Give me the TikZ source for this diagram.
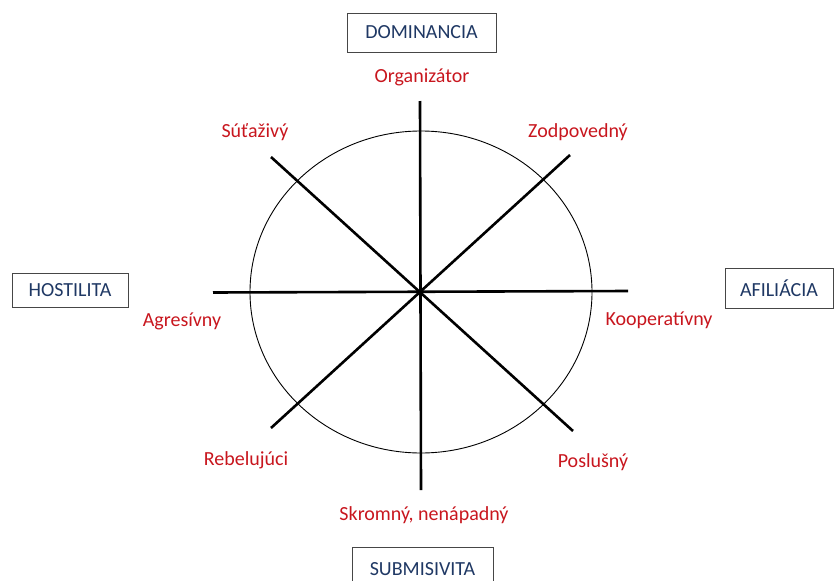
\documentclass[tikz,border=0pt]{standalone}
\usepackage{fontspec}
\setmainfont{Carlito}
\definecolor{lblred}{RGB}{200,22,30}
\definecolor{boxblue}{RGB}{31,56,100}
\definecolor{boxedge}{RGB}{70,70,70}
\begin{document}
\begin{tikzpicture}[x=1pt,y=-1pt,
  axisline/.style={line width=2.6pt,black},
  pole/.style={draw=boxedge,line width=1pt,fill=white,text=boxblue,font=\fontsize{20}{24}\selectfont,inner sep=0pt,anchor=center},
  trait/.style={text=lblred,font=\fontsize{20}{24}\selectfont,inner sep=0pt,anchor=center}]
\useasboundingbox (0,0) rectangle (836,581);
\coordinate (c) at (421,292);
\draw[line width=0.9pt] (c) ellipse [x radius=171pt, y radius=161pt];
% axes
\coordinate (vt) at (420,101);
\coordinate (vb) at (421,490);
\coordinate (hl) at (213,292.5);
\coordinate (hr) at (628,291);
\coordinate (dtl) at (271,157);
\coordinate (dbr) at (573,431);
\coordinate (dtr) at (570,155);
\coordinate (dbl) at (271,428);
\draw[axisline] (vt) -- (vb);
\draw[axisline] (hl) -- (hr);
\draw[axisline] (dtl) -- (dbr);
\draw[axisline] (dtr) -- (dbl);
% pole boxes
\node[pole,minimum width=149pt,minimum height=39pt] (dom) at (421.5,32.5) {DOMINANCIA};
\node[pole,minimum width=116pt,minimum height=34pt] (hos) at (70,290) {HOSTILITA};
\node[pole,minimum width=108pt,minimum height=40pt] (afi) at (779,288) {AFILIÁCIA};
\node[pole,minimum width=141pt,minimum height=44pt] (sub) at (422.5,569) {SUBMISIVITA};
% trait labels
\node[trait] (org) at (422,77) {Organizátor};
\node[trait] (sut) at (255,132) {Súťaživý};
\node[trait] (zod) at (578,132) {Zodpovedný};
\node[trait] (agr) at (182,321) {Agresívny};
\node[trait] (koo) at (659,320) {Kooperatívny};
\node[trait] (reb) at (246,460) {Rebelujúci};
\node[trait] (pos) at (593,462) {Poslušný};
\node[trait] (skr) at (424,515) {Skromný, nenápadný};
\end{tikzpicture}
\end{document}
